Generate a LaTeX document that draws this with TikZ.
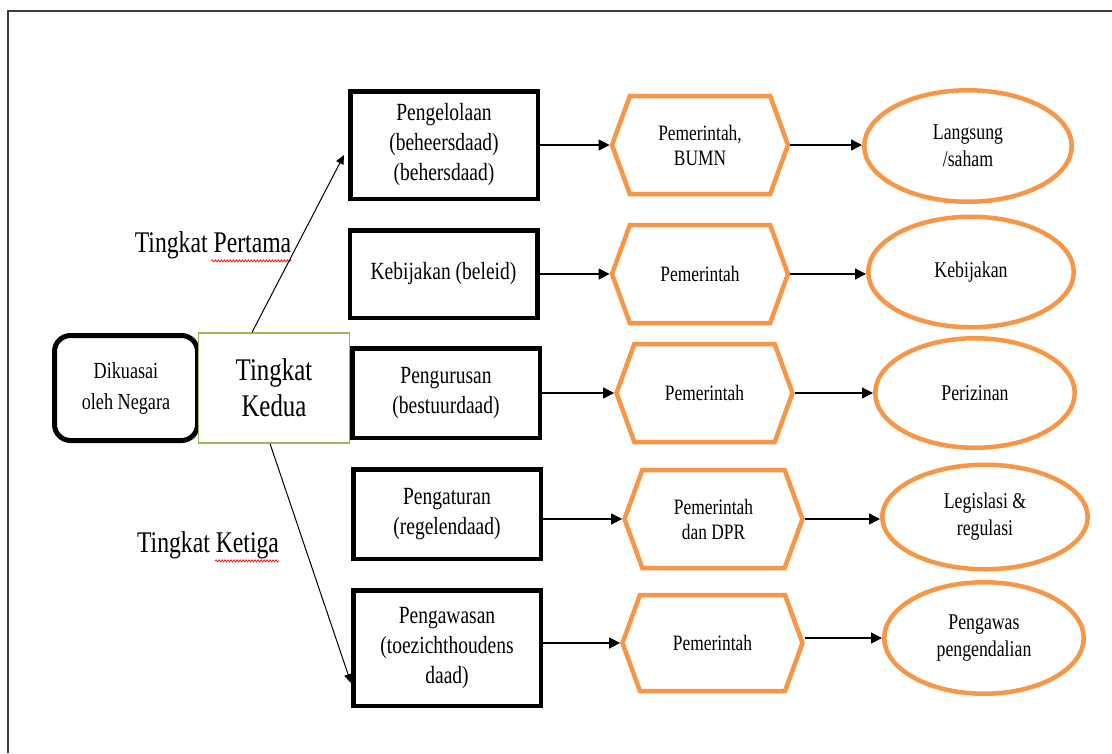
\documentclass[tikz,border=0pt]{standalone}
\usepackage{fontspec}
\setmainfont{Liberation Serif}[FakeStretch=0.79]
\usetikzlibrary{shapes.geometric,shapes.symbols,arrows.meta,calc,decorations.pathmorphing}
\definecolor{hexor}{RGB}{247,150,70}
\definecolor{kgreen}{RGB}{155,187,89}
\definecolor{framegray}{RGB}{60,60,60}
\begin{document}
\begin{tikzpicture}[x=1pt,y=-1pt,
  blackbox/.style={draw=black, line width=4.5pt, minimum width=187.5pt, align=center, inner sep=0pt, font=\fontsize{24.7}{30}\selectfont},
  hexbox/.style={signal, signal to=west and east, signal pointer angle=140, draw=hexor, line width=4.5pt, minimum width=176pt, minimum height=98pt, align=center, inner sep=0pt, font=\fontsize{22}{25}\selectfont},
  ovalbox/.style={ellipse, draw=hexor, line width=4.5pt, inner sep=0pt, align=center, font=\fontsize{22.5}{27}\selectfont},
  arr/.style={line width=1.5pt, -{Triangle[length=11pt,width=11pt]}},
  thinarr/.style={line width=1pt, -{Triangle[length=9pt,width=8pt]}},
  lvl/.style={font=\fontsize{30}{30}\selectfont, inner sep=0pt},
  squig/.style={draw=red, line width=0.7pt, decorate, decoration={snake, amplitude=1.1pt, segment length=3pt}}
]
\useasboundingbox (0,0) rectangle (1112,753);
% frame
\draw[framegray, line width=1.6pt] (8,753) -- (8,11) -- (1112,11);

% left nodes
\node[draw=black, line width=5pt, rounded corners=16pt, minimum width=143pt, minimum height=105pt, align=center, inner sep=0pt, font=\fontsize{23}{31}\selectfont] (dk) at (126,388) {Dikuasai\\oleh Negara};
\node[draw=kgreen, fill=white, line width=1.2pt, minimum width=151pt, minimum height=110pt, align=center, inner sep=0pt, font=\fontsize{31.5}{36}\selectfont] (kd) at (274,388) {Tingkat\\Kedua};

% level labels
\node[lvl] (tp) at (213,245) {Tingkat Pertama};
\node[lvl] (tk) at (208,545) {Tingkat Ketiga};
\draw[squig] ($(tp.south east)+(-80,2)$) -- ($(tp.south east)+(0,2)$);
\draw[squig] ($(tk.south east)+(-64,2)$) -- ($(tk.south east)+(0,2)$);

% black boxes
\node[blackbox, minimum height=107.5pt] (b1) at (444,145) {Pengelolaan\\(beheersdaad)\\(behersdaad)};
\node[blackbox, minimum height=87.5pt] (b2) at (443.5,274) {Kebijakan (beleid)};
\node[blackbox, minimum height=89.5pt] (b3) at (446,393) {Pengurusan\\(bestuurdaad)};
\node[blackbox, minimum height=89.5pt] (b4) at (447,514) {Pengaturan\\(regelendaad)};
\node[blackbox, minimum height=115.5pt] (b5) at (447,648) {Pengawasan\\(toezichthoudens\\daad)};

% hexagons
\node[hexbox] (h1) at (700,145) {Pemerintah,\\BUMN};
\node[hexbox] (h2) at (700,274) {Pemerintah};
\node[hexbox] (h3) at (704.5,393) {Pemerintah};
\node[hexbox, minimum width=178pt] (h4) at (713.5,519) {Pemerintah\\dan DPR};
\node[hexbox, minimum width=180pt, minimum height=96pt] (h5) at (712.5,643) {Pemerintah};

% ellipses
\node[ovalbox, minimum width=207.5pt, minimum height=111.5pt] (e1) at (968,146) {Langsung\\/saham};
\node[ovalbox, minimum width=205.5pt, minimum height=110.5pt] (e2) at (971,272) {Kebijakan};
\node[ovalbox, minimum width=199.5pt, minimum height=109.5pt] (e3) at (975,393) {Perizinan};
\node[ovalbox, minimum width=205.5pt, minimum height=104.5pt] (e4) at (985,517) {Legislasi \&\\regulasi};
\node[ovalbox, minimum width=199.5pt, minimum height=111.5pt] (e5) at (984,638) {Pengawas\\pengendalian};

% diagonal arrows
\draw[thinarr] ($(kd.north)+(-22,0)$) -- ($(b1.west)+(-4,10)$);
\draw[thinarr] ($(kd.south)+(-4,0)$) -- ($(b5.west)+(0,35)$);

% row arrows
\draw[arr] (b1.east |- h1.west) -- (h1.west);
\draw[arr] (h1.east) -- (e1.west |- h1.east);
\draw[arr] (b2.east |- h2.west) -- (h2.west);
\draw[arr] (h2.east) -- (e2.west |- h2.east);
\draw[arr] (b3.east |- h3.west) -- (h3.west);
\draw[arr] (h3.east) -- (e3.west |- h3.east);
\draw[arr] (b4.east |- h4.west) -- (h4.west);
\draw[arr] (h4.east) -- (e4.west |- h4.east);
\draw[arr] (b5.east |- h5.west) -- (h5.west);
\draw[arr] (h5.east |- e5.west) -- (e5.west);
\end{tikzpicture}
\end{document}
